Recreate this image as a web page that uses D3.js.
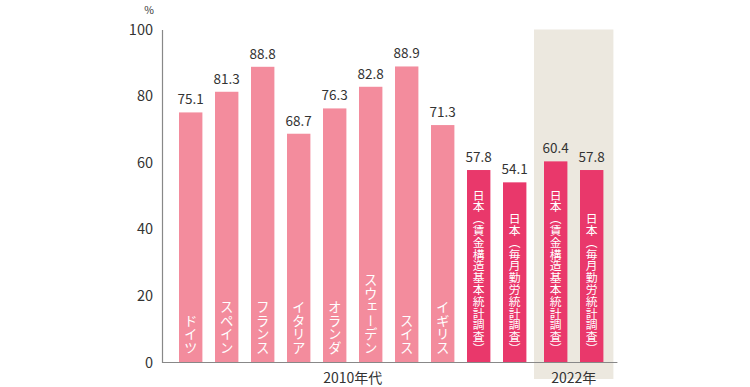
<!DOCTYPE html>
<html>
<head>
<meta charset="utf-8">
<script src="https://cdn.jsdelivr.net/npm/d3@7"></script>
<style>
  body { margin: 0; background: #fff; }
  svg text { font-family: "Noto Sans CJK JP", "Noto Sans", sans-serif; }
</style>
</head>
<body>
<div id="chart"></div>
<script>
// data
var categories = ["ドイツ", "スペイン", "フランス", "イタリア", "オランダ", "スウェーデン", "スイス", "イギリス",
                  "日本（賃金構造基本統計調査）", "日本（毎月勤労統計調査）",
                  "日本（賃金構造基本統計調査）", "日本（毎月勤労統計調査）"];
var values = [75.1, 81.3, 88.8, 68.7, 76.3, 82.8, 88.9, 71.3, 57.8, 54.1, 60.4, 57.8];
var periods = ["2010年代", "2010年代", "2010年代", "2010年代", "2010年代", "2010年代", "2010年代", "2010年代",
               "2010年代", "2010年代", "2022年", "2022年"];
var japan = [false, false, false, false, false, false, false, false, true, true, true, true];
var yTicks = [0, 20, 40, 60, 80, 100];

var width = 750, height = 387;

var svg = d3.select("#chart").append("svg")
    .attr("width", width)
    .attr("height", height);

var x = d3.scaleBand()
    .domain(d3.range(categories.length))
    .range([172.7, 604.7])
    .paddingInner(0.35)
    .paddingOuter(0.175);

var y = d3.scaleLinear()
    .domain([0, 100])
    .range([362.5, 29.5]);

// the 2022 group sits a little further right
function groupShift(i) { return periods[i] === "2022年" ? 5 : 0; }
function bx(i) { return x(i) + groupShift(i); }

var data = values.map(function(v, i) {
    return {i: i, value: v, name: categories[i], period: periods[i], japan: japan[i]};
});

// shaded 2022 panel
var last = data.filter(d => d.period === "2022年");
var panelX0 = bx(last[0].i) - 10,
    panelX1 = bx(last[last.length - 1].i) + x.bandwidth() + 10;
svg.append("rect")
    .attr("x", panelX0)
    .attr("y", y(100))
    .attr("width", panelX1 - panelX0)
    .attr("height", 379 - y(100))
    .attr("fill", "#ece8df");

// bars
svg.append("g").selectAll("rect")
    .data(data)
    .join("rect")
    .attr("x", d => bx(d.i))
    .attr("y", d => y(d.value))
    .attr("width", x.bandwidth())
    .attr("height", d => y(0) - y(d.value))
    .attr("fill", d => d.japan ? "#e9386b" : "#f38c9d");

// value labels
svg.append("g").selectAll("text")
    .data(data)
    .join("text")
    .attr("x", d => bx(d.i) + x.bandwidth() / 2)
    .attr("y", d => y(d.value) - 8)
    .attr("text-anchor", "middle")
    .attr("font-size", 13.5)
    .attr("fill", "#333")
    .text(d => d.value.toFixed(1));

// vertical category names inside bars
svg.append("g").selectAll("text")
    .data(data)
    .join("text")
    .attr("x", d => bx(d.i) + x.bandwidth() / 2)
    .attr("y", d => y(0) - 8)
    .attr("text-anchor", "end")
    .style("writing-mode", "vertical-rl")
    .attr("font-size", d => d.japan ? 11.8 : 13.5)
    .attr("fill", "#fff")
    .text(d => d.name);

// y axis
var yAxis = svg.append("g")
    .attr("transform", "translate(162,0)")
    .call(d3.axisLeft(y).tickValues(yTicks).tickSize(0).tickPadding(9));
yAxis.select(".domain").attr("stroke", "#888").attr("stroke-width", 1.2);
yAxis.selectAll(".tick text")
    .attr("font-size", 14.5)
    .attr("fill", "#333")
    .style("font-family", "'Noto Sans CJK JP', sans-serif");

svg.append("text")
    .attr("x", 149)
    .attr("y", 14)
    .attr("text-anchor", "middle")
    .attr("font-size", 10.5)
    .attr("fill", "#333")
    .text("%");

// baseline
svg.append("line")
    .attr("x1", 162)
    .attr("x2", panelX1 + 4)
    .attr("y1", y(0))
    .attr("y2", y(0))
    .attr("stroke", "#888")
    .attr("stroke-width", 1.2);

// period labels
var groups = d3.groups(data, d => d.period);
svg.append("g").selectAll("text")
    .data(groups)
    .join("text")
    .attr("x", g => {
        var a = g[1][0].i, b = g[1][g[1].length - 1].i;
        return (bx(a) + bx(b) + x.bandwidth()) / 2;
    })
    .attr("y", 383)
    .attr("text-anchor", "middle")
    .attr("font-size", 14)
    .attr("fill", "#333")
    .text(g => g[0]);
</script>
</body>
</html>
